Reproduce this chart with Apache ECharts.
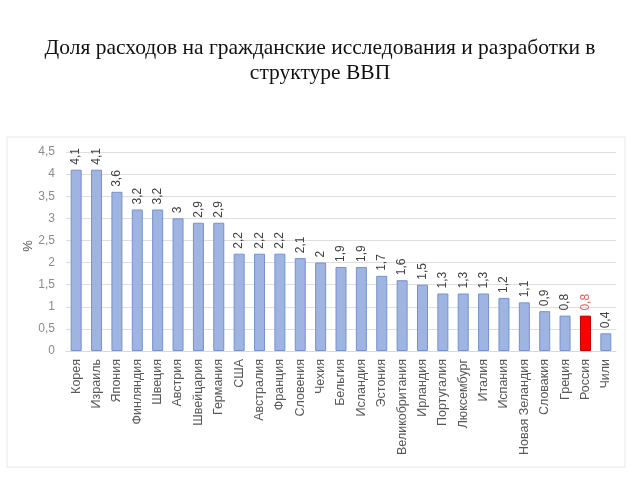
<!DOCTYPE html>
<html><head><meta charset="utf-8">
<script src="https://cdn.jsdelivr.net/npm/echarts@6/dist/echarts.min.js"></script>
<style>html,body{margin:0;padding:0;background:#fff}#c{width:640px;height:480px}</style>
</head><body><div id="c"></div>
<script>
const countries = ['Корея','Израиль','Япония','Финляндия','Швеция','Австрия','Швейцария','Германия','США','Австралия','Франция','Словения','Чехия','Бельгия','Исландия','Эстония','Великобритания','Ирландия','Португалия','Люксембург','Италия','Испания','Новая Зеландия','Словакия','Греция','Россия','Чили'];
const values = [4.1,4.1,3.6,3.2,3.2,3,2.9,2.9,2.2,2.2,2.2,2.1,2,1.9,1.9,1.7,1.6,1.5,1.3,1.3,1.3,1.2,1.1,0.9,0.8,0.8,0.4];
const highlight = 'Россия';
const yName = '%';
const titleText = 'Доля расходов на гражданские исследования и разработки в\nструктуре ВВП';

const fmt = v => String(v).replace('.', ',');
const chart = echarts.init(document.getElementById('c'));
chart.setOption({
  animation: false,
  title: {
    text: titleText, left: 'center', top: 31,
    textStyle: {fontFamily: 'Liberation Serif', fontWeight: 'normal', fontSize: 21.5, color: '#111', lineHeight: 25}
  },
  graphic: [
    {type: 'rect', shape: {x: 7, y: 137, width: 618, height: 330},
      style: {fill: 'none', stroke: '#e8e8e8', lineWidth: 1}, silent: true},
    {type: 'text', x: 28, y: 246, rotation: Math.PI / 2,
      style: {text: yName, fill: '#595959', font: '13px "Liberation Sans"', align: 'center', verticalAlign: 'middle'}, silent: true}
  ],
  grid: {left: 66, right: 24, top: 152, bottom: 129},
  xAxis: {
    type: 'category', data: countries,
    axisLine: {show: true, lineStyle: {color: '#d9d9d9'}},
    axisTick: {show: false},
    axisLabel: {rotate: 90, interval: 0, color: '#595959', fontFamily: 'Liberation Sans', fontSize: 12.5, margin: 8}
  },
  yAxis: {
    type: 'value', min: 0, max: 4.5, interval: 0.5,
    axisLine: {show: false}, axisTick: {show: false},
    axisLabel: {color: '#8c8c8c', fontFamily: 'Liberation Sans', fontSize: 12, formatter: v => fmt(v), margin: 11},
    splitLine: {lineStyle: {color: '#dedede'}}
  },
  series: [{
    type: 'bar', barWidth: 11,
    data: values.map((v, i) => countries[i] === highlight ? {
      value: v,
      itemStyle: {color: '#ff0000', borderColor: '#c00000'},
      label: {color: '#e06060'}
    } : v),
    itemStyle: {color: '#a0b4e2', borderColor: '#7592cc', borderWidth: 1},
    label: {show: true, position: 'top', rotate: 90, align: 'left', verticalAlign: 'middle', distance: 5,
      color: '#404040', fontFamily: 'Liberation Sans', fontSize: 12, formatter: p => fmt(p.value)}
  }]
});
</script></body></html>
